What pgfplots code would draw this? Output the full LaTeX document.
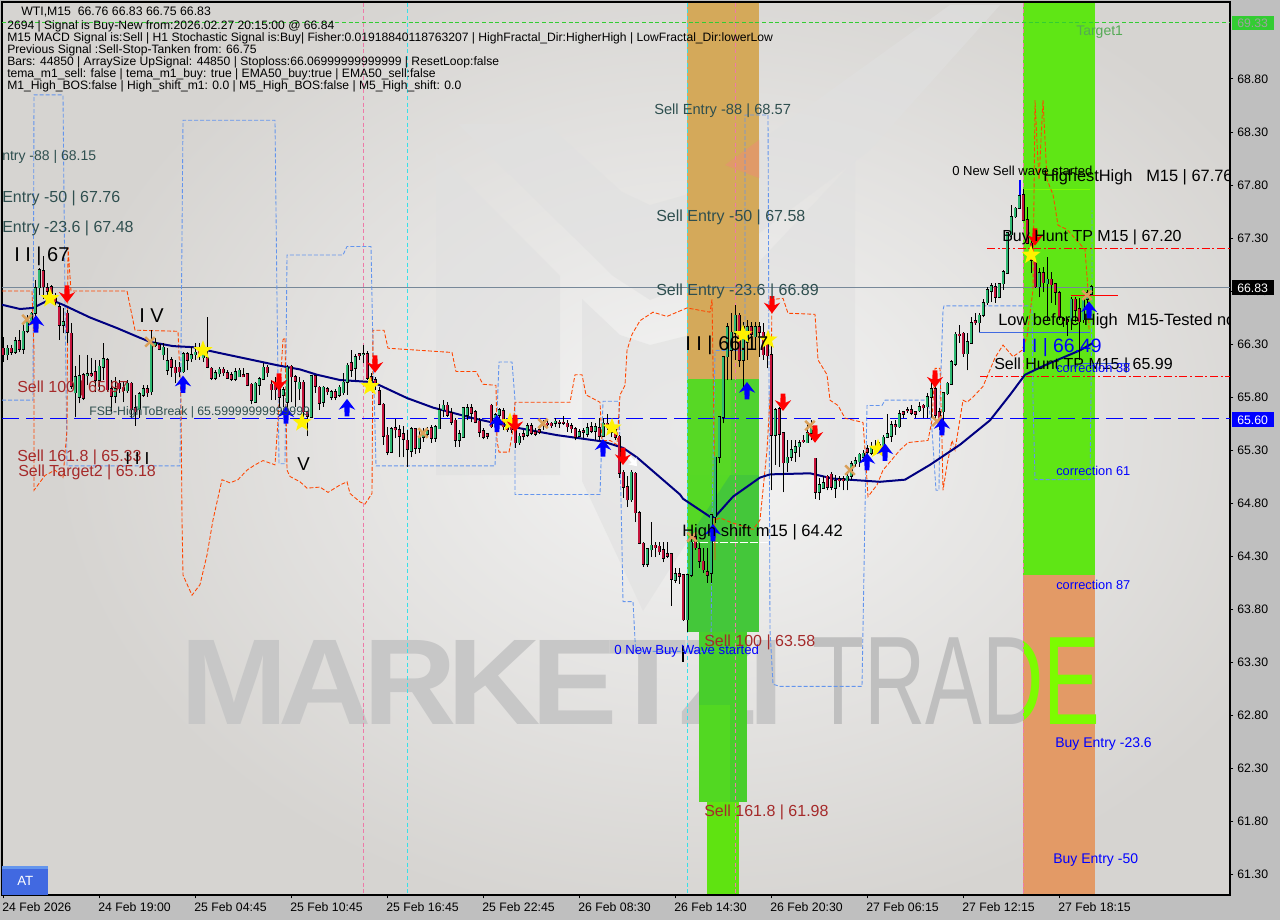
\documentclass[border=0pt]{standalone}
\usepackage{fontspec}
\setmainfont{Liberation Sans}
\usepackage{graphicx}
\usepackage{pgfplots}
\usepackage{pgfplotstable}
\pgfplotsset{compat=1.18}
\usetikzlibrary{plotmarks}

\definecolor{upc}{HTML}{2EB872}
\definecolor{dnc}{HTML}{C4143C}
\definecolor{ema}{HTML}{000080}
\definecolor{stepb}{HTML}{6495ED}
\definecolor{stepo}{HTML}{FF4500}
\definecolor{slate}{HTML}{2F4F4F}
\definecolor{brownl}{HTML}{A52A2A}
\definecolor{tanx}{HTML}{DAA05A}
\definecolor{pinkv}{HTML}{EE7AA8}
\definecolor{cyanv}{HTML}{38E0E8}
\definecolor{bgo}{HTML}{D6D4D1}
\definecolor{bgi}{HTML}{F5F5F5}
\definecolor{zorange}{HTML}{D4A95A}
\definecolor{zsalmon}{HTML}{E09A68}
\definecolor{zga}{HTML}{57D825}
\definecolor{zgb}{HTML}{4FD22F}
\definecolor{zgc}{HTML}{44C73A}
\definecolor{zgd}{HTML}{55D825}
\definecolor{zge}{HTML}{48CE2C}
\definecolor{zgf}{HTML}{52D822}
\definecolor{zgg}{HTML}{5FE311}
\definecolor{zgh}{HTML}{5FE615}
\definecolor{zor}{HTML}{E39A66}
\definecolor{limeg}{HTML}{7CFC00}
\definecolor{greenl}{HTML}{32CD32}
\definecolor{royal}{HTML}{4169E1}
\definecolor{tgreen}{HTML}{55AA55}
\definecolor{boxgray}{HTML}{A0A0A0}
\definecolor{pline}{HTML}{778899}

% marks
\pgfdeclareplotmark{fstar}{%
  \pgfpathmoveto{\pgfpointpolar{90}{\pgfplotmarksize}}%
  \pgfpathlineto{\pgfpointpolar{126}{0.42\pgfplotmarksize}}%
  \pgfpathlineto{\pgfpointpolar{162}{\pgfplotmarksize}}%
  \pgfpathlineto{\pgfpointpolar{198}{0.42\pgfplotmarksize}}%
  \pgfpathlineto{\pgfpointpolar{234}{\pgfplotmarksize}}%
  \pgfpathlineto{\pgfpointpolar{270}{0.42\pgfplotmarksize}}%
  \pgfpathlineto{\pgfpointpolar{306}{\pgfplotmarksize}}%
  \pgfpathlineto{\pgfpointpolar{342}{0.42\pgfplotmarksize}}%
  \pgfpathlineto{\pgfpointpolar{18}{\pgfplotmarksize}}%
  \pgfpathlineto{\pgfpointpolar{54}{0.42\pgfplotmarksize}}%
  \pgfpathclose\pgfusepathqfill}
\pgfdeclareplotmark{uparr}{%
  \pgfpathmoveto{\pgfpoint{0pt}{\pgfplotmarksize}}%
  \pgfpathlineto{\pgfpoint{0.95\pgfplotmarksize}{-0.25\pgfplotmarksize}}%
  \pgfpathlineto{\pgfpoint{0.3\pgfplotmarksize}{0.05\pgfplotmarksize}}%
  \pgfpathlineto{\pgfpoint{0.28\pgfplotmarksize}{-\pgfplotmarksize}}%
  \pgfpathlineto{\pgfpoint{-0.28\pgfplotmarksize}{-\pgfplotmarksize}}%
  \pgfpathlineto{\pgfpoint{-0.3\pgfplotmarksize}{0.05\pgfplotmarksize}}%
  \pgfpathlineto{\pgfpoint{-0.95\pgfplotmarksize}{-0.25\pgfplotmarksize}}%
  \pgfpathclose\pgfusepathqfill}
\pgfdeclareplotmark{dnarr}{%
  \pgfpathmoveto{\pgfpoint{0pt}{-\pgfplotmarksize}}%
  \pgfpathlineto{\pgfpoint{0.95\pgfplotmarksize}{0.25\pgfplotmarksize}}%
  \pgfpathlineto{\pgfpoint{0.3\pgfplotmarksize}{-0.05\pgfplotmarksize}}%
  \pgfpathlineto{\pgfpoint{0.28\pgfplotmarksize}{\pgfplotmarksize}}%
  \pgfpathlineto{\pgfpoint{-0.28\pgfplotmarksize}{\pgfplotmarksize}}%
  \pgfpathlineto{\pgfpoint{-0.3\pgfplotmarksize}{-0.05\pgfplotmarksize}}%
  \pgfpathlineto{\pgfpoint{-0.95\pgfplotmarksize}{0.25\pgfplotmarksize}}%
  \pgfpathclose\pgfusepathqfill}

% candles: x, wick high/low, body top/bottom
\pgfplotstableread{
x h l t b
7 66.29 66.15 66.26 66.20
15 66.37 66.21 66.33 66.22
23 66.50 66.21 66.42 66.25
27 66.57 66.40 66.51 66.42
31 66.60 66.50 66.59 66.51
35 66.90 66.50 66.83 66.59
39 67.02 66.76 67.00 66.83
63 66.64 66.40 66.51 66.48
75 66.09 65.61 65.99 65.84
79 66.20 65.74 66.00 65.80
87 66.20 65.91 66.02 66.00
99 66.15 65.87 66.09 65.96
103 66.31 65.96 66.16 66.08
115 65.99 65.74 65.88 65.81
127 65.96 65.84 65.93 65.86
139 65.85 65.60 65.83 65.68
143 65.91 65.80 65.88 65.82
151 66.43 65.82 66.31 65.85
155 66.36 66.27 66.31 66.29
163 66.31 66.15 66.27 66.20
167 66.26 66.01 66.14 66.05
183 66.22 66.03 66.21 66.04
191 66.27 66.13 66.20 66.16
195 66.31 66.15 66.22 66.20
203 66.29 66.13 66.24 66.17
215 66.05 65.96 66.03 65.98
219 66.08 65.99 66.06 66.02
235 66.07 65.95 66.04 65.97
239 66.07 65.99 66.05 65.99
255 65.94 65.75 65.93 65.75
259 65.99 65.82 65.97 65.91
263 66.12 65.96 66.08 65.97
283 65.89 65.71 65.87 65.82
287 66.10 65.58 66.08 65.75
299 65.99 65.77 65.94 65.88
311 66.01 65.60 66.00 65.61
323 65.90 65.71 65.89 65.75
331 65.87 65.77 65.85 65.80
339 65.91 65.80 65.89 65.82
343 66.03 65.82 65.94 65.84
347 66.12 65.82 66.10 65.94
355 66.21 65.96 66.18 66.07
363 66.29 66.12 66.21 66.20
391 65.52 65.27 65.50 65.28
411 65.52 65.23 65.50 65.29
419 65.49 65.27 65.42 65.32
423 65.51 65.38 65.46 65.42
427 65.52 65.42 65.48 65.45
435 65.54 65.38 65.52 65.41
439 65.73 65.50 65.68 65.50
443 65.77 65.61 65.72 65.68
459 65.49 65.33 65.45 65.39
463 65.70 65.42 65.70 65.42
467 65.73 65.58 65.70 65.63
495 65.65 65.49 65.63 65.52
499 65.70 65.58 65.68 65.63
519 65.46 65.35 65.43 65.37
527 65.55 65.42 65.53 65.44
555 65.60 65.52 65.57 65.55
579 65.50 65.42 65.47 65.43
587 65.55 65.42 65.51 65.45
595 65.55 65.39 65.52 65.48
603 65.60 65.43 65.55 65.43
631 65.11 64.81 65.09 64.83
647 64.38 64.20 64.37 64.22
651 64.62 64.29 64.40 64.36
675 64.19 64.05 64.13 64.07
687 64.12 63.58 64.12 63.70
691 64.50 64.10 64.43 64.12
711 64.70 64.05 64.69 64.14
715 65.23 64.61 65.23 64.67
719 65.61 65.18 65.61 65.23
723 66.18 65.55 66.18 65.61
727 66.50 65.96 66.46 66.18
731 66.59 65.96 66.41 66.24
735 66.67 66.15 66.57 66.40
743 66.51 65.88 66.46 66.15
747 66.53 66.15 66.46 66.32
755 66.51 66.24 66.46 66.37
775 65.70 65.16 65.68 65.44
787 65.39 65.09 65.23 65.18
791 65.39 65.20 65.30 65.23
795 65.39 65.19 65.33 65.28
799 65.39 65.23 65.37 65.33
807 65.55 65.37 65.46 65.37
811 65.58 65.39 65.52 65.46
819 65.04 64.83 64.97 64.90
823 65.05 64.93 64.99 64.94
835 65.06 64.85 65.01 64.94
847 65.10 64.92 65.05 65.01
851 65.20 65.02 65.17 65.05
855 65.23 65.14 65.20 65.17
859 65.27 65.14 65.26 65.19
863 65.30 65.19 65.27 65.23
871 65.38 65.25 65.33 65.27
879 65.38 65.28 65.35 65.31
883 65.44 65.30 65.42 65.33
887 65.64 65.41 65.45 65.42
891 65.57 65.38 65.54 65.43
899 65.68 65.51 65.64 65.52
919 65.75 65.66 65.71 65.67
927 65.84 65.60 65.80 65.71
931 65.97 65.60 65.88 65.80
943 65.85 65.55 65.84 65.66
947 65.94 65.82 65.93 65.83
951 66.15 65.92 66.13 65.92
955 66.41 66.09 66.39 66.11
967 66.40 66.05 66.32 66.21
971 66.55 66.31 66.50 66.31
979 66.59 66.41 66.57 66.50
983 66.72 66.55 66.69 66.57
987 66.84 66.67 66.81 66.69
991 66.88 66.70 66.85 66.80
999 66.88 66.73 66.87 66.74
1003 67.00 66.81 66.98 66.87
1007 67.36 66.97 67.35 66.97
1011 67.61 67.31 67.50 67.33
1015 67.59 67.49 67.58 67.50
1019 67.71 67.57 67.70 67.58
1039 67.02 66.74 66.97 66.84
1047 67.12 66.53 66.91 66.87
1071 66.74 66.43 66.72 66.52
1083 66.74 66.50 66.72 66.53
1087 66.81 66.69 66.78 66.72
1091 66.86 66.77 66.84 66.77
}\upbars

\pgfplotstableread{
x h l t b
3 66.37 66.13 66.26 66.20
11 66.29 66.20 66.26 66.22
19 66.43 66.22 66.33 66.25
43 67.13 66.72 66.99 66.84
47 66.88 66.76 66.83 66.80
51 66.86 66.74 66.84 66.78
55 66.78 66.67 66.76 66.70
59 66.69 66.34 66.65 66.48
67 66.62 66.31 66.59 66.41
71 66.50 65.88 66.40 65.90
83 66.03 65.77 66.01 65.79
91 66.17 65.99 66.02 66.00
95 66.15 65.85 66.04 65.96
107 66.17 65.85 66.15 65.87
111 65.96 65.66 65.88 65.81
119 65.96 65.84 65.93 65.88
123 65.94 65.75 65.89 65.86
131 65.94 65.60 65.93 65.68
135 65.82 65.53 65.70 65.66
147 65.91 65.80 65.88 65.84
159 66.31 66.24 66.29 66.25
171 66.18 65.99 66.15 66.08
175 66.15 65.93 66.08 66.03
179 66.13 65.99 66.08 66.04
187 66.22 66.05 66.21 66.15
199 66.31 66.15 66.26 66.21
207 66.55 66.07 66.17 66.08
211 66.08 65.96 66.07 65.98
223 66.08 66.00 66.06 66.03
227 66.05 65.98 66.03 65.98
231 66.04 65.95 66.01 65.97
243 66.07 65.99 66.01 65.99
247 66.03 65.90 66.02 65.91
251 65.93 65.73 65.92 65.77
267 66.10 65.99 66.08 66.03
271 65.96 65.77 65.92 65.87
275 65.99 65.77 65.91 65.87
279 65.93 65.70 65.88 65.80
291 66.10 65.75 66.09 65.99
295 66.01 65.71 65.99 65.95
303 65.96 65.52 65.94 65.66
307 65.66 65.43 65.66 65.62
315 66.01 65.84 66.00 65.90
319 65.90 65.68 65.89 65.74
327 65.89 65.82 65.88 65.85
335 65.88 65.77 65.85 65.80
351 66.24 65.99 66.12 66.05
359 66.21 66.15 66.21 66.19
367 66.23 65.96 66.21 65.98
371 66.03 65.91 65.99 65.96
375 65.99 65.87 65.96 65.93
379 65.89 65.72 65.86 65.73
383 65.74 65.35 65.73 65.43
387 65.52 65.25 65.44 65.28
395 65.59 65.41 65.51 65.49
399 65.54 65.23 65.49 65.43
403 65.53 65.23 65.45 65.40
407 65.49 65.14 65.39 65.31
415 65.51 65.26 65.50 65.32
431 65.54 65.37 65.51 65.41
447 65.75 65.61 65.72 65.63
451 65.70 65.54 65.65 65.56
455 65.60 65.33 65.58 65.39
471 65.73 65.56 65.70 65.65
475 65.68 65.55 65.66 65.56
479 65.60 65.42 65.57 65.47
483 65.51 65.40 65.48 65.42
487 65.45 65.40 65.45 65.43
491 65.73 65.51 65.72 65.52
503 65.70 65.49 65.67 65.52
507 65.56 65.47 65.55 65.49
511 65.54 65.46 65.52 65.49
515 65.51 65.32 65.49 65.37
523 65.49 65.39 65.45 65.43
531 65.55 65.44 65.53 65.46
535 65.51 65.43 65.47 65.45
539 65.51 65.45 65.49 65.47
543 65.58 65.49 65.55 65.53
547 65.58 65.51 65.55 65.54
551 65.56 65.51 65.55 65.53
559 65.58 65.51 65.56 65.55
563 65.62 65.54 65.56 65.55
567 65.58 65.47 65.55 65.52
571 65.55 65.46 65.53 65.50
575 65.52 65.39 65.50 65.42
583 65.51 65.41 65.48 65.47
591 65.56 65.46 65.52 65.48
599 65.60 65.39 65.51 65.43
607 65.64 65.49 65.55 65.51
611 65.54 65.42 65.52 65.47
615 65.51 65.39 65.49 65.42
619 65.44 65.04 65.43 65.08
623 65.11 64.85 65.09 64.95
627 65.05 64.76 64.95 64.83
635 65.09 64.62 65.08 64.71
639 64.72 64.41 64.71 64.42
643 64.43 64.20 64.42 64.22
655 64.43 64.29 64.40 64.38
659 64.43 64.31 64.39 64.34
663 64.43 64.24 64.36 64.28
667 64.43 64.28 64.32 64.30
671 64.33 63.83 64.32 64.08
679 64.19 64.04 64.13 64.11
683 64.12 63.69 64.12 63.70
695 64.53 64.36 64.48 64.38
699 64.42 64.19 64.37 64.25
703 64.38 64.14 64.25 64.17
707 64.38 64.05 64.15 64.12
739 66.59 66.08 66.57 66.15
751 66.51 66.27 66.46 66.39
759 66.51 66.18 66.46 66.41
763 66.50 66.15 66.41 66.20
767 66.38 66.07 66.36 66.19
771 66.37 64.92 66.20 65.44
779 65.71 65.14 65.69 65.45
783 65.47 64.90 65.46 65.18
803 65.44 65.37 65.39 65.38
815 65.22 64.84 65.22 64.90
827 65.06 64.92 65.05 64.95
831 65.09 64.92 65.07 64.95
839 65.05 64.95 65.03 65.01
843 65.05 64.92 65.03 65.01
867 65.35 65.23 65.31 65.28
875 65.39 65.28 65.33 65.31
895 65.58 65.44 65.54 65.52
903 65.66 65.60 65.66 65.64
907 65.71 65.65 65.68 65.67
911 65.72 65.63 65.68 65.65
915 65.66 65.60 65.66 65.64
923 65.73 65.60 65.72 65.70
935 65.96 65.58 65.88 65.63
939 65.70 65.49 65.66 65.56
959 66.48 66.31 66.39 66.38
963 66.41 66.18 66.40 66.21
975 66.59 66.48 66.52 66.50
995 66.88 66.69 66.84 66.74
1023 67.76 67.47 67.71 67.47
1027 67.59 67.24 67.47 67.25
1031 67.28 66.97 67.25 67.09
1035 67.09 66.83 67.07 66.84
1043 67.03 66.79 66.97 66.88
1051 66.98 66.69 66.91 66.86
1055 66.88 66.67 66.87 66.79
1059 66.80 66.53 66.78 66.55
1063 66.55 66.46 66.54 66.52
1067 66.53 66.38 66.53 66.51
1075 66.74 66.51 66.72 66.62
1079 66.73 66.15 66.63 66.51
}\dnbars

\newcommand{\candles}[2]{%
  \addplot[forget plot,draw=none,mark=none,error bars/.cd,y dir=plus,y explicit,error mark=none,
    error bar style={draw=black,line width=0.7pt}]
    table[x=x,y=l,y error plus expr=\thisrow{h}-\thisrow{l}] {#1};
  \addplot[forget plot,draw=none,mark=none,error bars/.cd,y dir=plus,y explicit,error mark=none,
    error bar style={draw=black,line width=2.25pt}]
    table[x=x,y expr=\thisrow{b}-0.006,y error plus expr=\thisrow{t}-\thisrow{b}+0.012] {#1};
  \addplot[forget plot,draw=none,mark=none,error bars/.cd,y dir=plus,y explicit,error mark=none,
    error bar style={draw=#2,line width=1.15pt}]
    table[x=x,y=b,y error plus expr=\thisrow{t}-\thisrow{b}] {#1};
}
\newcommand{\lbl}[5]{\node[anchor=west,inner sep=0pt,text=#4,font=\fontsize{#3}{#3}\selectfont] at (#1,#2) {#5};}
\tikzset{vd/.style={line width=0.6pt,dash pattern=on 3pt off 2pt}}

\begin{document}
\begin{tikzpicture}[x=0.75pt,y=-0.75pt]
\useasboundingbox (0,0) rectangle (1280,920);
\fill[black!25] (0,0) rectangle (1280,920);

% chart background and watermark
\begin{scope}
\clip (2,2) rectangle (1230,895);
\fill[bgo] (2,2) rectangle (1230,895);
\shade[inner color=bgi,outer color=bgo] (50,-70) rectangle (1350,930);
\fill[black!12,opacity=.6] (436,152)--(560,276)--(560,475)--(436,475)--cycle;
\fill[black!12,opacity=.6] (458,124)--(547,124)--(622,192)--(650,205)--(685,195)--(950,5)--(1000,5)--(870,150)--(690,285)--(650,300)--(613,276)--cycle;
\fill[black!12,opacity=.6] (582,299)--(620,335)--(650,345)--(690,335)--(855,160)--(855,475)--(730,475)--(643,611)--(582,481)--cycle;
\node[anchor=south west,inner sep=0pt,text=black!22] at (180,725) {\resizebox{453pt}{63pt}{\bfseries\addfontfeatures{LetterSpace=-7}MARKETZI}};
\node[anchor=south west,inner sep=0pt,text=black!25] at (812,725) {\resizebox{216pt}{65pt}{TRADE}};
% coloured zones
\fill[zorange] (687,2) rectangle (759,379);
\fill[zsalmon] (759,140)--(759,178)--(725,165)--cycle;
\fill[zga] (687,379) rectangle (731,475);
\fill[zgb] (731,379) rectangle (759,475);
\fill[zgc] (687,475) rectangle (759,632);
\fill[zgd] (687,475)--(730,475)--(687,540)--cycle;
\fill[zge] (699,632) rectangle (747,802);
\fill[zgf] (699,705) rectangle (730,802);
\fill[zgg] (707,802) rectangle (739,895);
\fill[zgh] (1023,2) rectangle (1095,575);
\fill[zor] (1023,575) rectangle (1095,895);
\begin{scope}
\clip (1023,575) rectangle (1105,895);
\node[anchor=south west,inner sep=0pt,text=limeg] at (812,725) {\resizebox{216pt}{65pt}{TRADE}};
\end{scope}
\end{scope}

\begin{axis}[
  at={(1.5pt,-671.25pt)},anchor=south west,
  scale only axis,width=921pt,height=669.75pt,
  xmin=2,xmax=1230,ymin=61.102,ymax=69.526,
  axis line style={black,line width=0.9pt},
  tick align=outside,tick style={black,line width=0.7pt},
  major tick length=2.5pt,
  xtick pos=bottom,ytick pos=right,
  xtick={3,99,195,291,387,483,579,675,771,867,963,1059},
  xticklabels={24 Feb 2026,24 Feb 19:00,25 Feb 04:45,25 Feb 10:45,25 Feb 16:45,25 Feb 22:45,26 Feb 08:30,26 Feb 14:30,26 Feb 20:30,27 Feb 06:15,27 Feb 12:15,27 Feb 18:15},
  xticklabel style={anchor=north west,xshift=-4pt,yshift=0pt,font=\fontsize{9.2}{10}\selectfont},
  ytick={61.3,61.8,62.3,62.8,63.3,63.8,64.3,64.8,65.3,65.8,66.3,66.8,67.3,67.8,68.3,68.8},
  yticklabel style={xshift=-0.5pt,font=\fontsize{9.2}{10}\selectfont,/pgf/number format/.cd,fixed,fixed zerofill,precision=2,assume math mode=true},
  every axis plot/.append style={forget plot},
]
% vertical session lines
\addplot[pinkv,vd] coordinates {(363,69.52)(363,61.11)};
\addplot[cyanv,vd] coordinates {(407,69.52)(407,61.11)};
\addplot[cyanv,vd] coordinates {(687,69.52)(687,61.11)};
\addplot[pinkv,vd] coordinates {(735,69.52)(735,61.11)};
\addplot[pinkv,vd] coordinates {(1023,69.52)(1023,61.11)};
% level lines
\addplot[pline,line width=0.7pt] coordinates {(2,66.83)(1230,66.83)};
\addplot[blue,line width=0.8pt,dash pattern=on 13pt off 5pt] coordinates {(2,65.60)(1230,65.60)};
\addplot[greenl,line width=0.7pt,dash pattern=on 3pt off 2pt] coordinates {(2,69.33)(1230,69.33)};
\addplot[red,line width=0.8pt,dash pattern=on 6pt off 2pt on 1.5pt off 2pt] coordinates {(987,67.20)(1230,67.20)};
\addplot[red,line width=0.8pt,dash pattern=on 6pt off 2pt on 1.5pt off 2pt] coordinates {(980,65.99)(1230,65.99)};
\addplot[white,line width=0.7pt,dash pattern=on 6pt off 1.5pt] coordinates {(690,64.43)(770,64.43)};
\addplot[limeg,line width=0.6pt] coordinates {(1023,67.76)(1090,67.76)};
\addplot[red,line width=0.9pt] coordinates {(1071,66.76)(1118,66.76)};
\addplot[royal,line width=0.7pt] coordinates {(979,66.41)(1090,66.41)};
\addplot[royal,line width=0.7pt] coordinates {(1079,66.12)(1130,66.12)};
\addplot[blue,line width=1.2pt] coordinates {(1020,67.85)(1020,67.71)};
\addplot[black,line width=1.5pt] coordinates {(683,63.45)(683,63.30)};
% blue step line
\addplot[stepb,line width=0.65pt,dash pattern=on 3pt off 1.5pt] coordinates {
(2,65.77)(33,65.77)(34,68.65)(63,68.65)(65,66.72)(67,65.15)(180,65.15)(183,68.41)(275,68.41)(277,66.72)(279,65.17)(285,65.17)(287,67.14)(343,67.14)(347,67.22)(371,67.22)(373,66.24)(376,65.15)(495,65.15)(499,66.13)(512,66.13)(515,65.77)(515,64.88)(600,64.88)(603,65.76)(619,65.76)(622,64.36)(623,63.87)(633,63.87)(635,63.51)(636,63.40)(711,63.40)(712,64.64)(715,66.24)(745,66.24)(745,68.46)(768,68.46)(770,63.60)(773,63.09)(780,63.07)(862,63.07)(865,64.73)(867,65.72)(882,65.72)(885,65.77)(928,65.77)(932,65.49)(936,64.92)(939,64.92)(940,65.77)(943,66.62)(944,66.66)(1032,66.66)(1033,65.77)(1035,65.02)(1090,65.02)(1092,66.72)(1092,67.56)};
% orange step line
\addplot[stepo,line width=0.65pt,dash pattern=on 3pt off 1.5pt] coordinates {
(2,66.80)(32,66.80)(34,66.24)(34,64.92)(45,65.06)(55,65.11)(63,65.04)(67,65.49)(68,67.21)(71,66.80)(127,66.80)(135,66.43)(178,66.42)(181,65.77)(182,64.64)(183,64.12)(192,63.93)(200,64.03)(207,64.31)(213,64.64)(222,65.02)(230,64.99)(238,65.02)(247,65.11)(255,65.16)(263,65.20)(275,65.16)(278,65.58)(283,66.34)(285,66.36)(287,65.11)(290,65.05)(300,65.00)(307,64.94)(320,64.95)(328,64.90)(340,64.97)(347,65.00)(350,64.89)(360,64.81)(365,64.79)(372,64.89)(373,66.43)(384,66.43)(388,66.26)(452,66.22)(456,66.04)(476,66.04)(483,65.92)(496,65.91)(497,65.39)(499,65.28)(509,65.28)(513,65.49)(515,65.75)(570,65.75)(575,66.01)(582,66.01)(586,65.82)(600,65.75)(602,65.39)(610,65.39)(617,65.35)(620,65.82)(625,65.91)(627,66.24)(632,66.39)(640,66.52)(653,66.60)(667,66.56)(687,66.64)(710,66.60)(712,66.72)(714,65.49)(715,64.26)(715,64.64)(720,64.66)(730,64.62)(753,64.55)(760,64.64)(767,65.30)(771,65.96)(772,66.72)(783,66.73)(788,66.59)(815,66.58)(818,66.15)(827,66.01)(830,65.77)(838,65.72)(845,65.60)(863,65.56)(865,65.30)(868,64.86)(877,64.97)(883,65.11)(900,65.30)(908,65.37)(928,65.39)(932,65.58)(935,66.07)(940,66.07)(942,65.39)(943,64.92)(947,65.16)(952,65.39)(955,65.30)(963,65.77)(967,65.75)(973,65.80)(983,65.90)(995,66.17)(1003,66.29)(1013,66.18)(1022,66.24)(1027,66.37)(1033,66.81)(1035,68.60)(1037,68.20)(1039,67.85)(1043,68.60)(1047,67.85)(1053,67.71)(1058,67.42)(1067,67.38)(1085,67.19)(1088,66.81)(1089,66.43)};
% moving average
\addplot[ema,line width=1.5pt] coordinates {
(2,66.67)(20,66.63)(33,66.64)(50,66.72)(63,66.67)(90,66.55)(117,66.45)(137,66.37)(150,66.32)(173,66.28)(193,66.27)(217,66.22)(247,66.16)(277,66.10)(300,66.06)(317,66.01)(340,65.96)(373,65.94)(407,65.79)(433,65.70)(473,65.60)(497,65.55)(517,65.51)(557,65.44)(603,65.38)(623,65.32)(637,65.23)(680,64.88)(683,64.84)(710,64.67)(715,64.67)(733,64.86)(760,65.04)(770,65.07)(810,65.08)(833,65.03)(880,65.00)(905,65.02)(930,65.16)(960,65.35)(990,65.58)(1010,65.82)(1025,66.01)(1045,66.10)(1080,66.24)(1093,66.31)};
% candles
\candles{\upbars}{upc}
\candles{\dnbars}{dnc}
% signals
\addplot[only marks,mark=x,mark size=5pt,mark options={draw=tanx,line width=1.9pt}] coordinates {
(27,66.53)(150,66.32)(423,65.46)(543,65.55)(692,64.48)(810,65.53)(850,65.11)(937,65.57)(1087,66.76)};
\addplot[only marks,mark=fstar,mark size=7.5pt,mark options={fill=yellow,draw=none}] coordinates {
(50,66.73)(203,66.24)(302,65.56)(370,65.90)(510,65.56)(612,65.51)(743,66.39)(768,66.34)(878,65.31)(1031,67.14)};
\addplot[only marks,mark=uparr,mark size=6.5pt,mark options={fill=blue,draw=none}] coordinates {
(36,66.49)(183,65.92)(286,65.63)(347,65.70)(497,65.55)(603,65.32)(713,64.52)(747,65.86)(867,65.19)(885,65.28)(942,65.52)(1089,66.62)};
\addplot[only marks,mark=dnarr,mark size=6.5pt,mark options={fill=red,draw=none}] coordinates {
(67,66.77)(279,65.94)(375,66.11)(515,65.55)(623,65.24)(772,66.67)(783,65.75)(815,65.45)(935,65.97)(1035,67.31)};
\addplot[only marks,mark=dnarr,mark size=4.5pt,mark options={fill=white,draw=red,line width=0.4pt,rotate=40}] coordinates {(633,65.19)};
\end{axis}

% text on the chart
\begin{scope}
\clip (2,2) rectangle (1230,895);
\lbl{21}{12}{9.2}{black}{WTI,M15\ \ 66.76 66.83 66.75 66.83}
\lbl{7}{26}{9.1}{black}{2694 | Signal is Buy-New from:2026.02.27 20:15:00 @ 66.84}
\lbl{7}{38}{9.1}{black}{M15 MACD Signal is:Sell | H1 Stochastic Signal is:Buy| Fisher:0.01918840118763207 | HighFractal\_Dir:HigherHigh | LowFractal\_Dir:lowerLow}
\lbl{7}{50}{9.1}{black}{Previous Signal :Sell-Stop-Tanken from: 66.75}
\lbl{7}{62}{9.1}{black}{Bars: 44850 | ArraySize UpSignal: 44850 | Stoploss:66.06999999999999 | ResetLoop:false}
\lbl{7}{74}{9.1}{black}{tema\_m1\_sell: false | tema\_m1\_buy: true | EMA50\_buy:true | EMA50\_sell:false}
\lbl{7}{86}{9.1}{black}{M1\_High\_BOS:false | High\_shift\_m1: 0.0 | M5\_High\_BOS:false | M5\_High\_shift: 0.0}
\lbl{2}{157}{10.5}{slate}{ntry -88 | 68.15}
\lbl{2}{198}{12}{slate}{Entry -50 | 67.76}
\lbl{2}{228}{12}{slate}{Entry -23.6 | 67.48}
\lbl{14}{256}{15}{black}{I I | 67}
\lbl{139}{316}{15}{black}{I V}
\lbl{17}{388}{12}{brownl}{Sell 100 | 65.97}
\lbl{89}{412}{9.2}{slate}{FSB-HighToBreak | 65.59999999999999}
\lbl{17}{457}{12}{brownl}{Sell 161.8 | 65.33}
\lbl{18}{472}{12}{brownl}{Sell Target2 | 65.18}
\lbl{125}{459}{13}{black}{I I I}
\lbl{297}{464}{14}{black}{V}
\lbl{654}{111}{11}{slate}{Sell Entry -88 | 68.57}
\lbl{656}{217}{12}{slate}{Sell Entry -50 | 67.58}
\lbl{656}{291}{12}{slate}{Sell Entry -23.6 | 66.89}
\lbl{685}{345}{15}{black}{I I | 66.17}
\lbl{682}{532}{12.4}{black}{High shift m15 | 64.42}
\lbl{614}{651}{9.9}{blue}{0 New Buy Wave started}
\lbl{704}{642}{12}{brownl}{Sell 100 | 63.58}
\lbl{704}{812}{12}{brownl}{Sell 161.8 | 61.98}
\lbl{952}{171}{9.8}{black}{0 New Sell wave started}
\lbl{1043}{177}{12.3}{black}{HighestHigh\ \ \ M15 | 67.76}
\lbl{1002}{237}{12}{black}{Buy Hunt TP M15 | 67.20}
\lbl{998}{321}{12.3}{black}{Low before High\ \ M15-Tested no}
\lbl{1021}{348}{14.5}{blue}{I I | 66.49}
\lbl{994}{365}{12}{black}{Sell Hunt TP M15 | 65.99}
\lbl{1056}{368}{9.6}{blue}{correction 38}
\lbl{1056}{471}{9.6}{blue}{correction 61}
\lbl{1056}{585}{9.6}{blue}{correction 87}
\lbl{1076}{32}{10.5}{tgreen}{Target1}
\lbl{1055}{744}{10.5}{blue}{Buy Entry -23.6}
\lbl{1053}{860}{10.5}{blue}{Buy Entry -50}
\fill[royal] (2,866) rectangle (48,895);
\fill[stepb] (2,866) rectangle (48,869);
\lbl{17}{881}{10}{white}{AT}
\end{scope}

% price boxes on the scale
\fill[black] (1232,280) rectangle (1274,295);
\lbl{1237}{288}{9.2}{white}{66.83}
\fill[blue] (1232,412) rectangle (1274,427);
\lbl{1237}{420}{9.2}{white}{65.60}
\fill[greenl] (1232,16) rectangle (1274,30);
\lbl{1237}{23}{9.2}{boxgray}{69.33}
\end{tikzpicture}
\end{document}
